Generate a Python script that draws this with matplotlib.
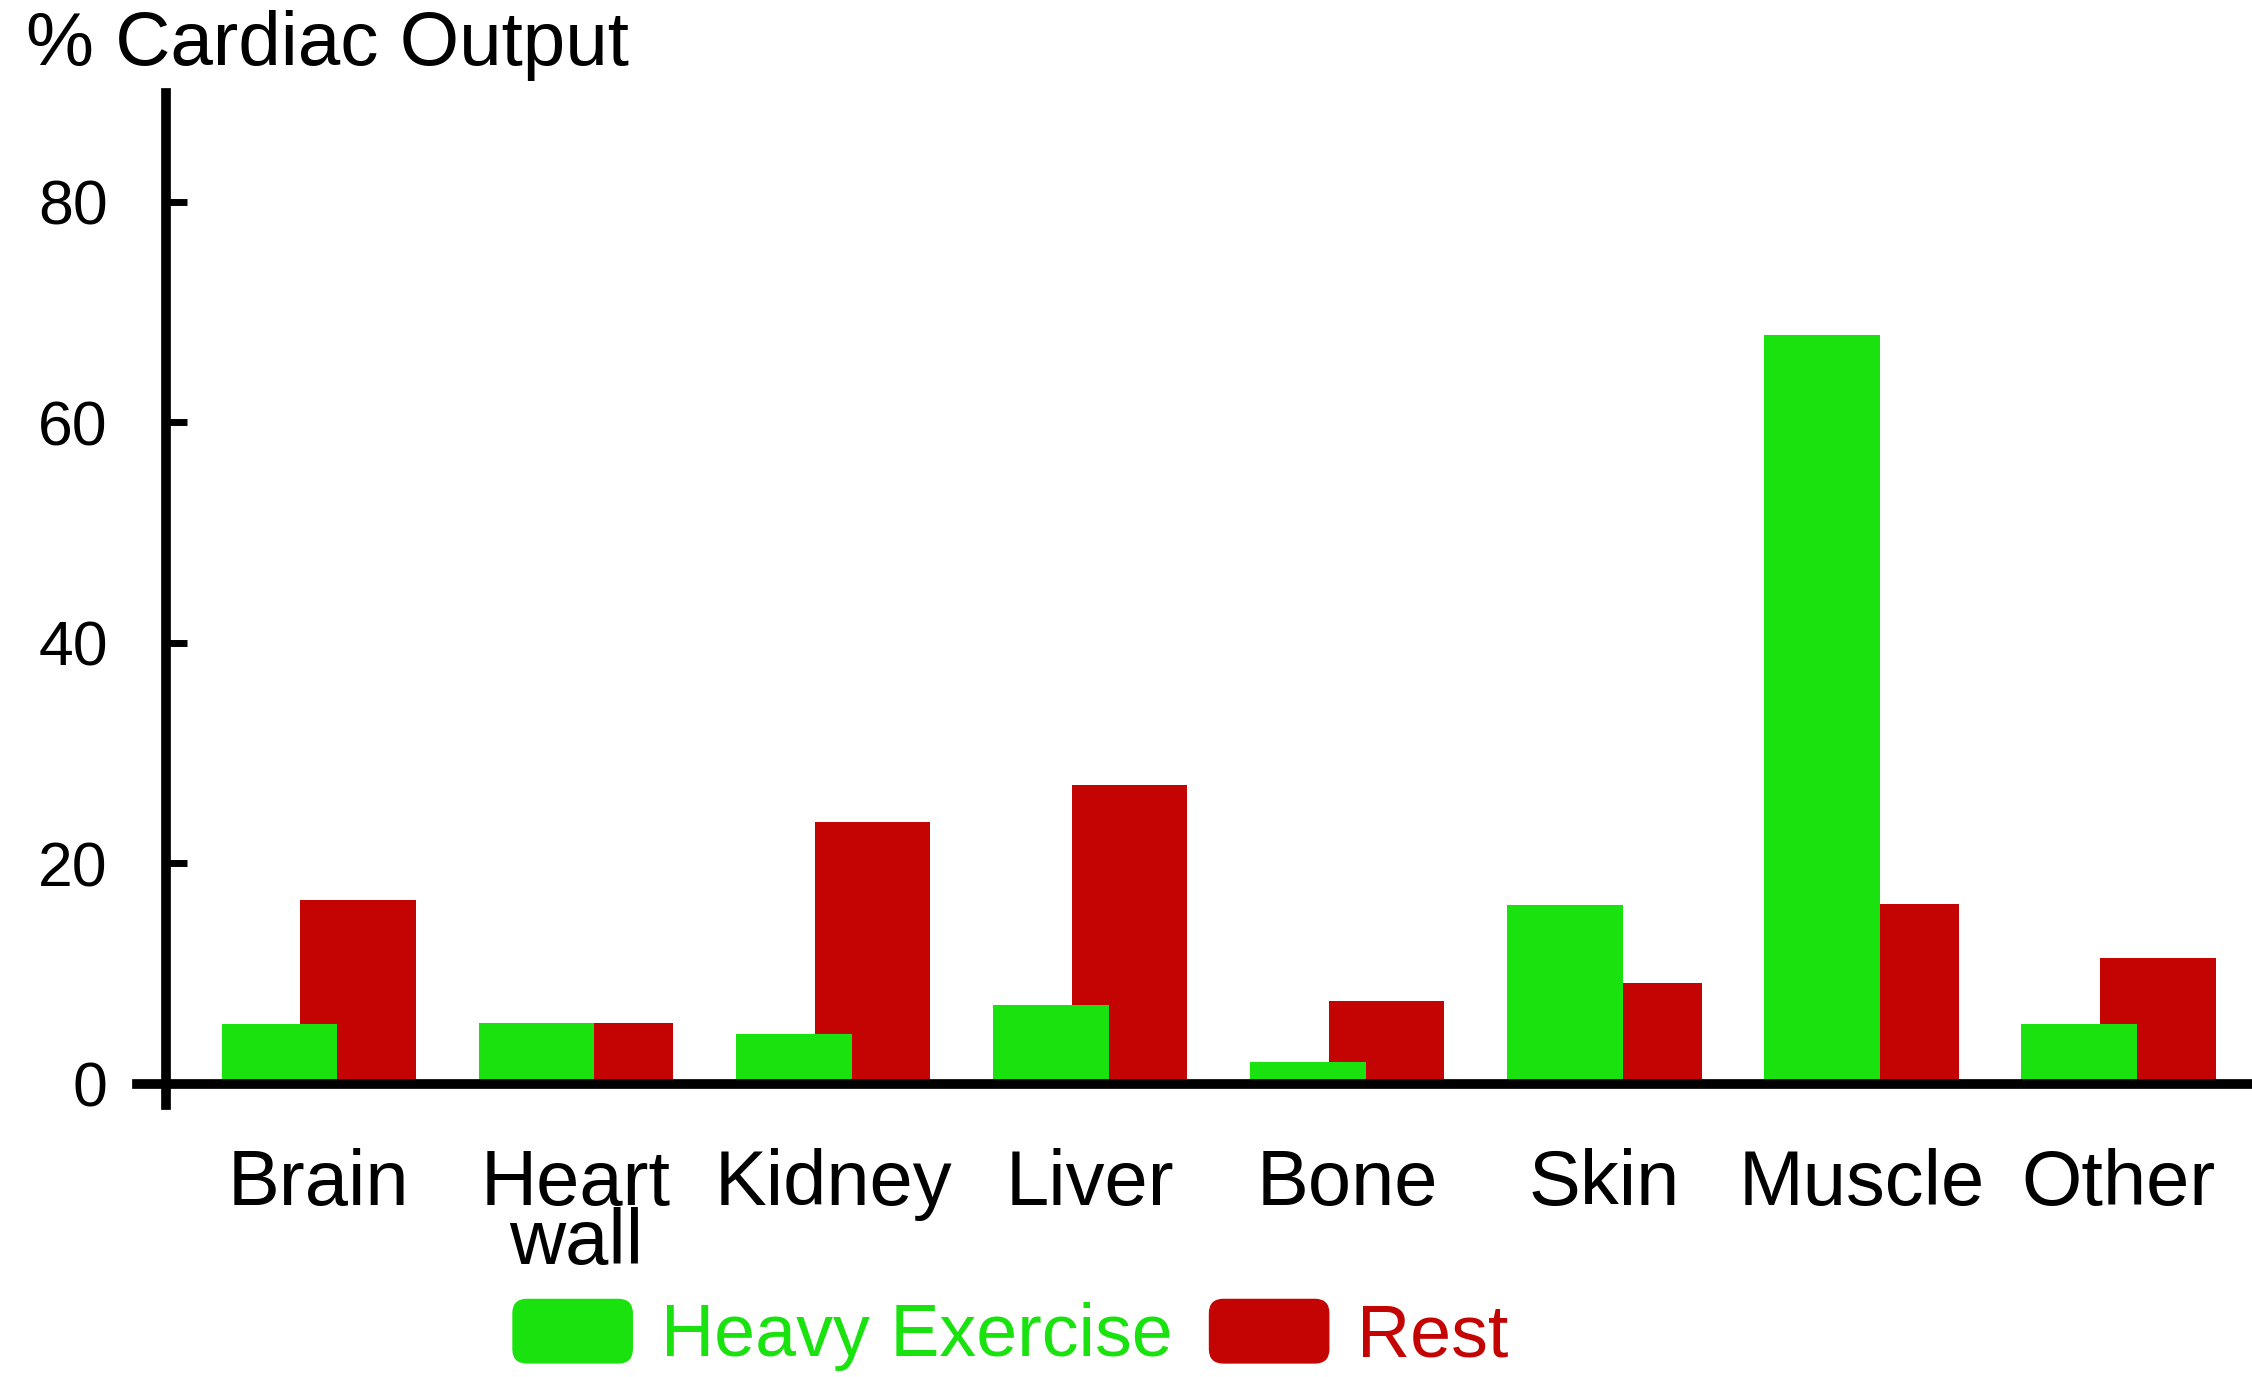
import matplotlib
matplotlib.use("Agg")
import matplotlib.pyplot as plt
from matplotlib.patches import Patch, FancyBboxPatch
from matplotlib.legend_handler import HandlerPatch
import numpy as np

plt.rcParams['font.family'] = ['Liberation Sans', 'DejaVu Sans']

# data (% of cardiac output)
organs = ["Brain", "Heart\nwall", "Kidney", "Liver", "Bone", "Skin", "Muscle", "Other"]
exercise = [5.4, 5.5, 4.5, 7.2, 2.0, 16.2, 67.9, 5.4]
rest = [16.7, 5.5, 23.8, 27.1, 7.5, 9.2, 16.3, 11.4]
yticks = [0, 20, 40, 60, 80]

green = "#1ae20e"
red = "#c40303"

fig = plt.figure(figsize=(22.52, 13.77), dpi=100)
ax = fig.add_axes([0, 0, 1, 1])

x = np.arange(len(organs))
w = 0.45
off = 0.153
ax.bar(x + off, rest, width=w, color=red, zorder=1)
ax.bar(x - off, exercise, width=w, color=green, zorder=2)

ax.set_xlim(-1.24, 7.519)
ax.set_ylim(-26.58, 98.32)

for s in ['top', 'right']:
    ax.spines[s].set_visible(False)
ax.spines['left'].set_position(('data', -0.594))
ax.spines['left'].set_bounds(-1.9, 89.9)
ax.spines['bottom'].set_position(('data', 0))
ax.spines['bottom'].set_bounds(-0.707, 7.519)
for s in ['left', 'bottom']:
    ax.spines[s].set_linewidth(7)
    ax.spines[s].set_zorder(3)

ax.set_yticks(yticks)
ax.set_yticklabels([str(t) for t in yticks])
ax.tick_params(axis='y', direction='in', length=15, width=5, pad=42, labelsize=45)
ax.set_xticks(x)
ax.set_xticklabels(organs, fontsize=56, linespacing=0.76)
ax.tick_params(axis='x', length=0, pad=46)

fig.text(26 / 2252, 1 - 10 / 1377, "% Cardiac Output", fontsize=55, ha='left', va='top')


def rounded(legend, orig_handle, xdescent, ydescent, width, height, fontsize):
    return FancyBboxPatch((-xdescent, -ydescent), width, height,
                          boxstyle="round,pad=0,rounding_size=10")


handles = [Patch(color=green, label="Heavy Exercise"), Patch(color=red, label="Rest")]
fig.legend(handles=handles, loc='lower left', bbox_to_anchor=(513 / 2252, 0.004),
           ncol=2, frameon=False, fontsize=53, handlelength=1.62, handleheight=0.95,
           handletextpad=0.39, columnspacing=0.5, borderpad=0, borderaxespad=0,
           labelcolor=[green, red],
           handler_map={Patch: HandlerPatch(patch_func=rounded)})

fig.savefig("out.png", dpi=100)
